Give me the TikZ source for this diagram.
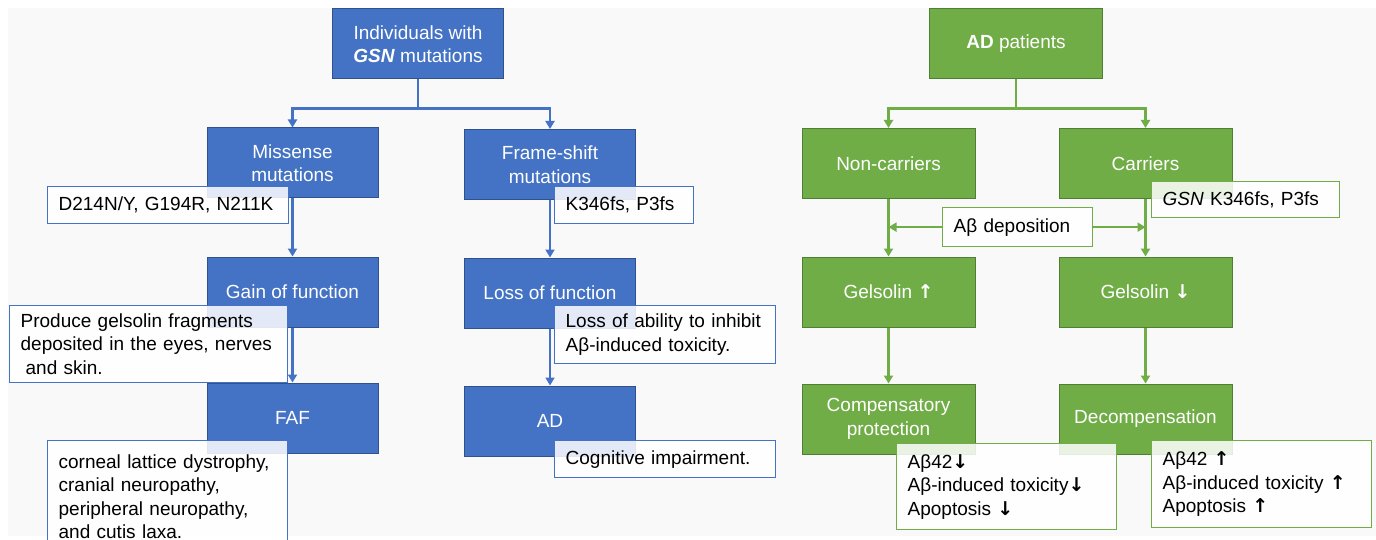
\documentclass[tikz,border=0pt]{standalone}
\usepackage{fontspec}
\setmainfont{Liberation Sans}
\newfontfamily\arrfont{DejaVu Sans}
\usetikzlibrary{arrows.meta,calc}
\definecolor{bfill}{HTML}{4472C4}
\definecolor{bdraw}{HTML}{2F528F}
\definecolor{gfill}{HTML}{70AD47}
\definecolor{gdraw}{HTML}{507E32}
\definecolor{bgcol}{HTML}{F9F9F9}
\newcommand{\upar}{{\arrfont\bfseries ↑}}
\newcommand{\dnar}{{\arrfont\bfseries ↓}}
\begin{document}
\begin{tikzpicture}[x=1pt,y=-1pt,
 fs/.style={font=\fontsize{19}{23.5}\selectfont},
 bbox/.style={fs, fill=bfill, draw=bdraw, line width=1pt, text=white, minimum width=171pt, minimum height=70pt, align=center, inner sep=0pt},
 gbox/.style={bbox, fill=gfill, draw=gdraw, minimum width=173pt},
 tbox/.style={fs, fill=white, fill opacity=0.85, text opacity=1, draw=bfill, line width=1.3pt, anchor=north west, align=left, inner xsep=11pt, inner ysep=0pt},
 gtbox/.style={tbox, draw=gfill},
 bconn/.style={draw=bfill, line width=2.2pt, -{Triangle[length=8pt,width=9pt]}},
 gconn/.style={bconn, draw=gfill}
]
\useasboundingbox (0,0) rectangle (1376,540);
\fill[bgcol] (8,8) rectangle (1376,536);

% ---------- left (blue) ----------
\node[bbox] (top) at (418,44) {Individuals with\\\textbf{\textit{GSN}} mutations};
\node[bbox] (miss) at (292.5,163) {Missense\\mutations};
\node[bbox] (frame) at (550,164.5) {Frame-shift\\mutations};
\node[bbox] (gain) at (292.5,292) {Gain of function};
\node[bbox] (lossf) at (550,293) {Loss of function};
\node[bbox] (faf) at (292.5,418) {FAF};
\node[bbox] (adl) at (550,421) {AD};

\draw[bconn] (top.south) -- ++(0,29) -| (miss.north);
\draw[bconn] (top.south) -- ++(0,29) -| (frame.north);
\draw[bconn] (miss.south) -- (gain.north);
\draw[bconn] (frame.south) -- (lossf.north);
\draw[bconn] (gain.south) -- (faf.north);
\draw[bconn] (lossf.south) -- (adl.north);

\node[tbox, text width=219pt, minimum height=37pt] (d214) at (47,186) {D214N/Y, G194R, N211K};
\node[tbox, text width=117pt, minimum height=37pt] (k346) at (554,186) {K346fs, P3fs};
\node[tbox, text width=256pt, minimum height=77pt] (produce) at (9,305) {Produce gelsolin fragments\\deposited in the eyes, nerves\\\hspace{5pt}and skin.};
\node[tbox, text width=199pt, minimum height=58pt] (lossab) at (554,305) {Loss of ability to inhibit\\Aβ-induced toxicity.};
\node[tbox, text width=218pt, minimum height=112pt] (corneal) at (47,440) {corneal lattice dystrophy,\\cranial neuropathy,\\peripheral neuropathy,\\and cutis laxa.};
\node[tbox, text width=199pt, minimum height=37pt] (cogn) at (554,440) {Cognitive impairment.};

% ---------- right (green) ----------
\node[gbox] (adp) at (1016,44) {\textbf{AD} patients};
\node[gbox] (nonc) at (888.5,163.5) {Non-carriers};
\node[gbox] (carr) at (1145.5,163.5) {Carriers};
\node[gbox] (gelu) at (888.5,292) {Gelsolin \upar};
\node[gbox] (geld) at (1145.5,292) {Gelsolin \dnar};
\node[gbox] (comp) at (888.5,419) {Compensatory\\protection};
\node[gbox] (decomp) at (1145.5,419) {Decompensation};

\draw[gconn] (adp.south) -- ++(0,29) -| (nonc.north);
\draw[gconn] (adp.south) -- ++(0,29) -| (carr.north);
\draw[gconn] (nonc.south) -- (gelu.north);
\draw[gconn] (carr.south) -- (geld.north);
\draw[gconn] (gelu.south) -- (comp.north);
\draw[gconn] (geld.south) -- (decomp.north);

\node[gtbox, text width=166pt, minimum height=36pt] (gsn) at (1151,181) {\textit{GSN} K346fs, P3fs};
\node[gtbox, text width=128pt, minimum height=39pt] (dep) at (942,207) {Aβ deposition};
\draw[gconn] (dep.west) -- (dep.west -| nonc.south);
\draw[gconn] (dep.east) -- (dep.east -| carr.south);
\node[gtbox, text width=198pt, minimum height=86pt] (boxd) at (896,443) {Aβ42\dnar\\Aβ-induced toxicity\dnar\\Apoptosis \dnar};
\node[gtbox, text width=198pt, minimum height=87pt] (boxu) at (1151,440) {Aβ42 \upar\\Aβ-induced toxicity \upar\\Apoptosis \upar};
\end{tikzpicture}
\end{document}
